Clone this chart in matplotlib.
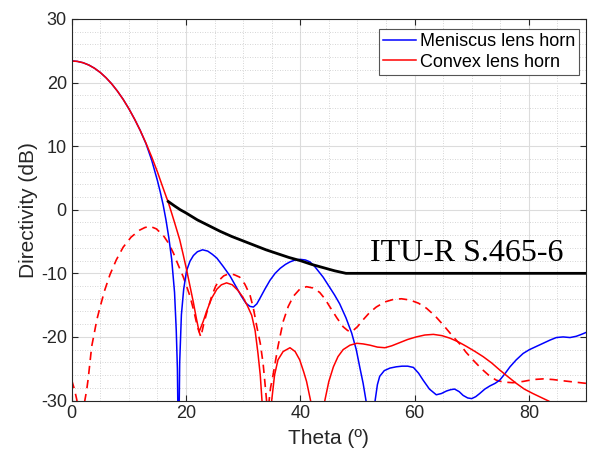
import matplotlib
matplotlib.use('Agg')
import matplotlib.pyplot as plt
from matplotlib.ticker import MultipleLocator, AutoMinorLocator

# Meniscus lens horn (blue, solid)
blue_theta = [0, 1, 2, 3, 4, 5, 6, 7, 8, 9, 10, 11, 12, 13, 14, 15, 15.5, 16, 16.5, 17,
              17.5, 18, 18.3, 18.5, 18.7, 18.9, 19.2, 19.6, 20.1, 20.7, 21.3, 22, 22.9,
              23.8, 24.6, 25.4, 26.5, 27.7, 28.7, 29.7, 30.5, 31.2, 31.8, 32.4, 32.9,
              33.8, 34.7, 35.6, 36.5, 37.4, 38.2, 39.1, 40, 40.9, 41.7, 42.5, 43.3, 44,
              45, 46, 46.9, 48, 49, 49.8, 50.4, 51, 51.5, 52.3, 53.1, 53.5, 53.9, 54.7,
              55.7, 56.8, 57.8, 58.8, 59.8, 60.7, 61.5, 62.6, 63.8, 64.7, 65.6, 66.3, 67,
              67.8, 68.5, 69.3, 70, 70.7, 71.4, 72.3, 73.2, 74.1, 74.9, 75.8, 76.7, 77.8,
              79, 80.1, 81.3, 82.5, 83.7, 84.8, 86, 87.2, 88.3, 89.2, 90]
blue_dir = [23.4, 23.33, 23.12, 22.76, 22.25, 21.59, 20.77, 19.8, 18.66, 17.37, 15.9, 14.26,
            12.46, 10.4, 7.8, 4.6, 2.8, 0.8, -1.6, -4.4,
            -7.8, -13.0, -19.0, -25.0, -40.0, -24.0, -16.5, -12.5, -9.6, -8.1, -7.2, -6.6, -6.3,
            -6.5, -7.0, -7.6, -8.9, -10.4, -12.0, -13.6, -14.7, -15.2, -15.3, -14.8, -14.0,
            -12.5, -11.1, -10.0, -9.2, -8.6, -8.2, -7.9, -7.8, -7.9, -8.2, -8.9, -9.8, -10.6,
            -12.0, -13.4, -14.8, -17.0, -19.4, -22.0, -24.7, -27.3, -30.0, -37.0, -30.0, -27.5, -26.2, -25.3,
            -24.9, -24.7, -24.6, -24.6, -24.8, -25.7, -26.8, -28.2, -29.1, -28.9, -28.5, -28.3, -28.2,
            -28.6, -29.2, -29.6, -29.7, -29.4, -28.9, -28.2, -27.7, -27.3, -26.8, -25.8, -24.7, -23.6,
            -22.6, -22.0, -21.5, -21.0, -20.5, -20.1, -20.0, -20.1, -19.9, -19.6, -19.3]

# Convex lens horn (red, solid)
red_theta = [0, 1, 2, 3, 4, 5, 6, 7, 8, 9, 10, 11, 12, 13, 14, 15, 16, 17, 18, 18.9, 19.5,
             20.1, 20.7, 21.3, 21.8, 22.3, 23, 23.6, 24.5, 25.4, 26.2, 27.1, 28.1, 29.1,
             30, 30.8, 31.5, 32.1, 32.6, 33, 33.3, 34.1, 35, 35.5, 36.1, 37, 38.2, 39.1,
             39.9, 40.6, 41.1, 41.8, 43, 44.3, 45, 45.8, 46.6, 47.5, 48.7, 49.9, 51, 52.2,
             53.5, 54.8, 56, 57.4, 58.8, 60.3, 61.8, 63.3, 64.8, 66.2, 67.7, 69.1, 70.6,
             72, 73.5, 74.9, 76.4, 77.8, 79.2, 80.7, 82.1, 83.5, 86, 90]
red_dir = [23.4, 23.33, 23.12, 22.76, 22.25, 21.59, 20.77, 19.8, 18.66, 17.37, 15.9, 14.26,
           12.46, 10.47, 8.31, 5.96, 3.4, 0.9, -2.0, -4.7, -7.0,
           -9.4, -12.0, -14.6, -17.0, -19.2, -17.6, -16.0, -13.9, -12.5, -11.8, -11.5, -11.8, -12.7,
           -13.8, -15.2, -16.6, -19.0, -22.6, -26.0, -30.0, -37.0, -30.0, -26.0, -23.6, -22.3, -21.7, -22.3,
           -23.6, -25.5, -27.0, -30.0, -37.0, -30.0, -27.0, -24.7, -23.1, -22.0, -21.3, -21.0, -21.1, -21.3,
           -21.6, -21.7, -21.4, -20.9, -20.4, -20.0, -19.7, -19.6, -19.8, -20.2, -20.8, -21.5, -22.3,
           -23.1, -24.1, -25.2, -26.3, -27.3, -28.2, -28.9, -29.5, -30.1, -31.5, -33.0]

# Convex lens horn, second curve (red, dashed)
redx_theta = [0, 0.5, 0.9, 1.5, 2.2, 2.6, 2.9, 3.2, 3.5, 4, 4.4, 5, 5.8, 6.7, 7.8, 9, 10.4,
              11.9, 12.8, 13.7, 14.8, 16, 16.9, 17.8, 18.6, 19.5, 20.1, 20.7, 21.4, 22,
              22.6, 23.1, 23.6, 24.5, 25.2, 25.9, 26.6, 27.4, 28.4, 29.4, 30.3, 31.2,
              31.8, 32.4, 33, 33.5, 33.9, 34.3, 34.8, 35.3, 36.1, 37, 37.9, 38.8, 39.9,
              41.1, 42.2, 43.4, 44.3, 45.2, 46.4, 47.5, 48.3, 49, 50, 51, 52.1, 53.3,
              54.8, 56.3, 57.7, 59.2, 60.7, 62.1, 63.6, 65, 66.4, 67.9, 69, 70.2, 71.7,
              73.2, 74.3, 75.5, 77.2, 79, 80.8, 82.5, 84.2, 86, 88, 90]
redx_dir = [-26.8, -28.3, -29.9, -34.0, -30.5, -28.5, -26.5, -24.0, -21.5, -19.2, -17.3, -15.2, -12.6,
            -10.2, -7.9, -5.9, -4.3, -3.2, -2.8, -2.6, -3.0, -4.0, -5.2, -6.8, -8.6, -10.5, -12.0,
            -13.6, -16.0, -18.4, -20.0, -18.0, -16.3, -13.6, -12.0, -11.0, -10.4, -10.1, -10.2,
            -10.6, -11.7, -13.4, -15.5, -18.4, -21.0, -24.2, -28.0, -32.0, -28.0, -25.7, -21.5,
            -17.6, -15.2, -13.6, -12.5, -12.1, -12.3, -13.0, -14.0, -15.3, -17.0, -18.4, -19.0,
            -19.2, -18.4, -17.3, -16.2, -15.3, -14.5, -14.1, -14.0, -14.2, -14.7, -15.5, -16.7,
            -18.1, -19.6, -21.1, -22.4, -23.6, -25.0, -26.2, -26.8, -27.1, -27.2, -27.0, -26.7,
            -26.6, -26.7, -26.9, -27.1, -27.3]

# ITU-R S.465-6 mask
itu_theta = [16.9, 18, 19, 20, 22, 24, 26, 28, 30, 32, 34, 36, 38, 40, 42, 44, 46, 48, 90]
itu_dir = [1.3, 0.6, 0.0, -0.5, -1.6, -2.5, -3.4, -4.2, -4.9, -5.6, -6.3, -6.9, -7.5, -8.0,
           -8.6, -9.1, -9.6, -10.0, -10.0]

plt.rcParams['font.family'] = ['Liberation Sans', 'DejaVu Sans']
plt.rcParams['axes.unicode_minus'] = False

fig = plt.figure(figsize=(5.89, 4.62), dpi=100)
ax = fig.add_axes([0.1217, 0.1331, 0.8732, 0.8258])

ax.plot(redx_theta, redx_dir, color='red', lw=1.2, ls=(0, (5, 3.5)))
ax.plot(blue_theta, blue_dir, color='blue', lw=1.1, label='Meniscus lens horn')
ax.plot(red_theta, red_dir, color='red', lw=1.1, label='Convex lens horn')
ax.plot(itu_theta, itu_dir, color='black', lw=2.0)

ax.text(52.2, -8.1, 'ITU-R S.465-6', family='Liberation Serif', fontsize=23, va='baseline')

ax.set_xlim(0, 90)
ax.set_ylim(-30, 30)
ax.xaxis.set_major_locator(MultipleLocator(20))
ax.yaxis.set_major_locator(MultipleLocator(10))
ax.xaxis.set_minor_locator(AutoMinorLocator(4))
ax.yaxis.set_minor_locator(AutoMinorLocator(5))

ax.grid(which='major', color='#dcdcdc', lw=0.8, ls='-')
ax.grid(which='minor', color='#c8c8c8', lw=0.6, ls=(0, (1, 2)))
ax.set_axisbelow(True)

ax.tick_params(which='both', direction='in', top=True, right=True, colors='#262626', labelsize=13)
ax.tick_params(which='major', length=4)
ax.tick_params(which='minor', length=0)
for s in ax.spines.values():
    s.set_color('#262626')
    s.set_linewidth(0.8)

ax.set_xlabel('Theta (º)', fontsize=15, color='#262626', labelpad=5)
ax.set_ylabel('Directivity (dB)', fontsize=15, color='#262626', labelpad=2)

leg = ax.legend(loc='upper right', bbox_to_anchor=(0.987, 0.975), fontsize=13, fancybox=False,
                edgecolor='#555555', framealpha=1, handlelength=1.8, handletextpad=0.2,
                borderpad=0.25, labelspacing=0.2, borderaxespad=0)
leg.get_frame().set_linewidth(0.8)

fig.savefig('out.png', dpi=100)
